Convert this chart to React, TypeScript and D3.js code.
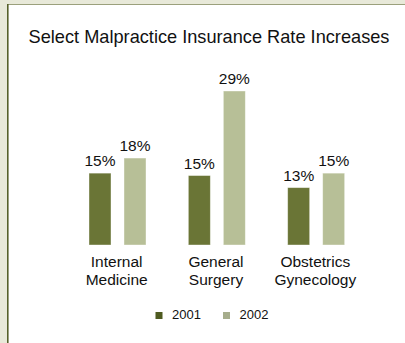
import React from "react";
import * as d3 from "d3";

const categories: string[][] = [
  ["Internal", "Medicine"],
  ["General", "Surgery"],
  ["Obstetrics", "Gynecology"],
];
const seriesNames = ["2001", "2002"];
const values2001 = [0.154, 0.15, 0.13];
const values2002 = [0.179, 0.29, 0.154];
const title = "Select Malpractice Insurance Rate Increases";

const W = 405;
const H = 343;
const barColors = ["#6a7536", "#b7bf97"];
const legendColors = ["#4f5b20", "#a6ad8c"];
const font = "Liberation Sans, Arial, sans-serif";

export default function App() {
  const series = [values2001, values2002];
  const x0 = d3
    .scaleBand<number>()
    .domain(d3.range(categories.length))
    .range([67, 365])
    .paddingInner(0)
    .paddingOuter(0);
  const x1 = d3
    .scaleBand<number>()
    .domain([0, 1])
    .range([22, 79])
    .paddingInner(13 / 35)
    .paddingOuter(0);
  const y = d3.scaleLinear().domain([0.035, 0.29]).range([245, 91]);
  const fmt = d3.format(".0%");

  return (
    <div style={{ position: "absolute", left: 0, top: 0, width: W, height: H }}>
      <svg width={W} height={H} style={{ display: "block" }} fontFamily={font}>
        <rect x={0} y={0} width={W} height={H} fill="#e8e9d9" />
        <rect x={8} y={5} width={W - 8} height={H - 5} fill="#ffffff" />
        <line x1={8} x2={W} y1={4.5} y2={4.5} stroke="#9ba07c" strokeWidth={1} />
        <line x1={7.8} x2={7.8} y1={4} y2={H} stroke="#56612a" strokeWidth={1.6} />
        <text x={209} y={43} textAnchor="middle" fontSize={18.2} fill="#111">
          {title}
        </text>
        {categories.map((cat, i) => {
          const gx = x0(i)!;
          return (
            <g key={i}>
              {series.map((vals, s) => {
                const bx = gx + x1(s)!;
                const bw = x1.bandwidth();
                const v = vals[i];
                return (
                  <g key={s}>
                    <rect
                      x={bx}
                      y={y(v)}
                      width={bw}
                      height={245 - y(v)}
                      fill={barColors[s]}
                      stroke="#ffffff"
                      strokeOpacity={0.5}
                      strokeWidth={0.8}
                    />
                    <text
                      x={bx + bw / 2}
                      y={y(v) - 7}
                      textAnchor="middle"
                      fontSize={15.5}
                      fill="#111"
                    >
                      {fmt(v)}
                    </text>
                  </g>
                );
              })}
              {cat.map((line, k) => (
                <text
                  key={k}
                  x={gx + x0.bandwidth() / 2}
                  y={266.5 + k * 18.7}
                  textAnchor="middle"
                  fontSize={15.5}
                  fill="#111"
                >
                  {line}
                </text>
              ))}
            </g>
          );
        })}
        {seriesNames.map((name, s) => (
          <g key={name} transform={`translate(${155.5 + s * 67.5},312)`}>
            <rect x={0} y={0} width={7} height={7} fill={legendColors[s]} />
            <text x={16.5} y={7} fontSize={13} fill="#111">
              {name}
            </text>
          </g>
        ))}
      </svg>
    </div>
  );
}
